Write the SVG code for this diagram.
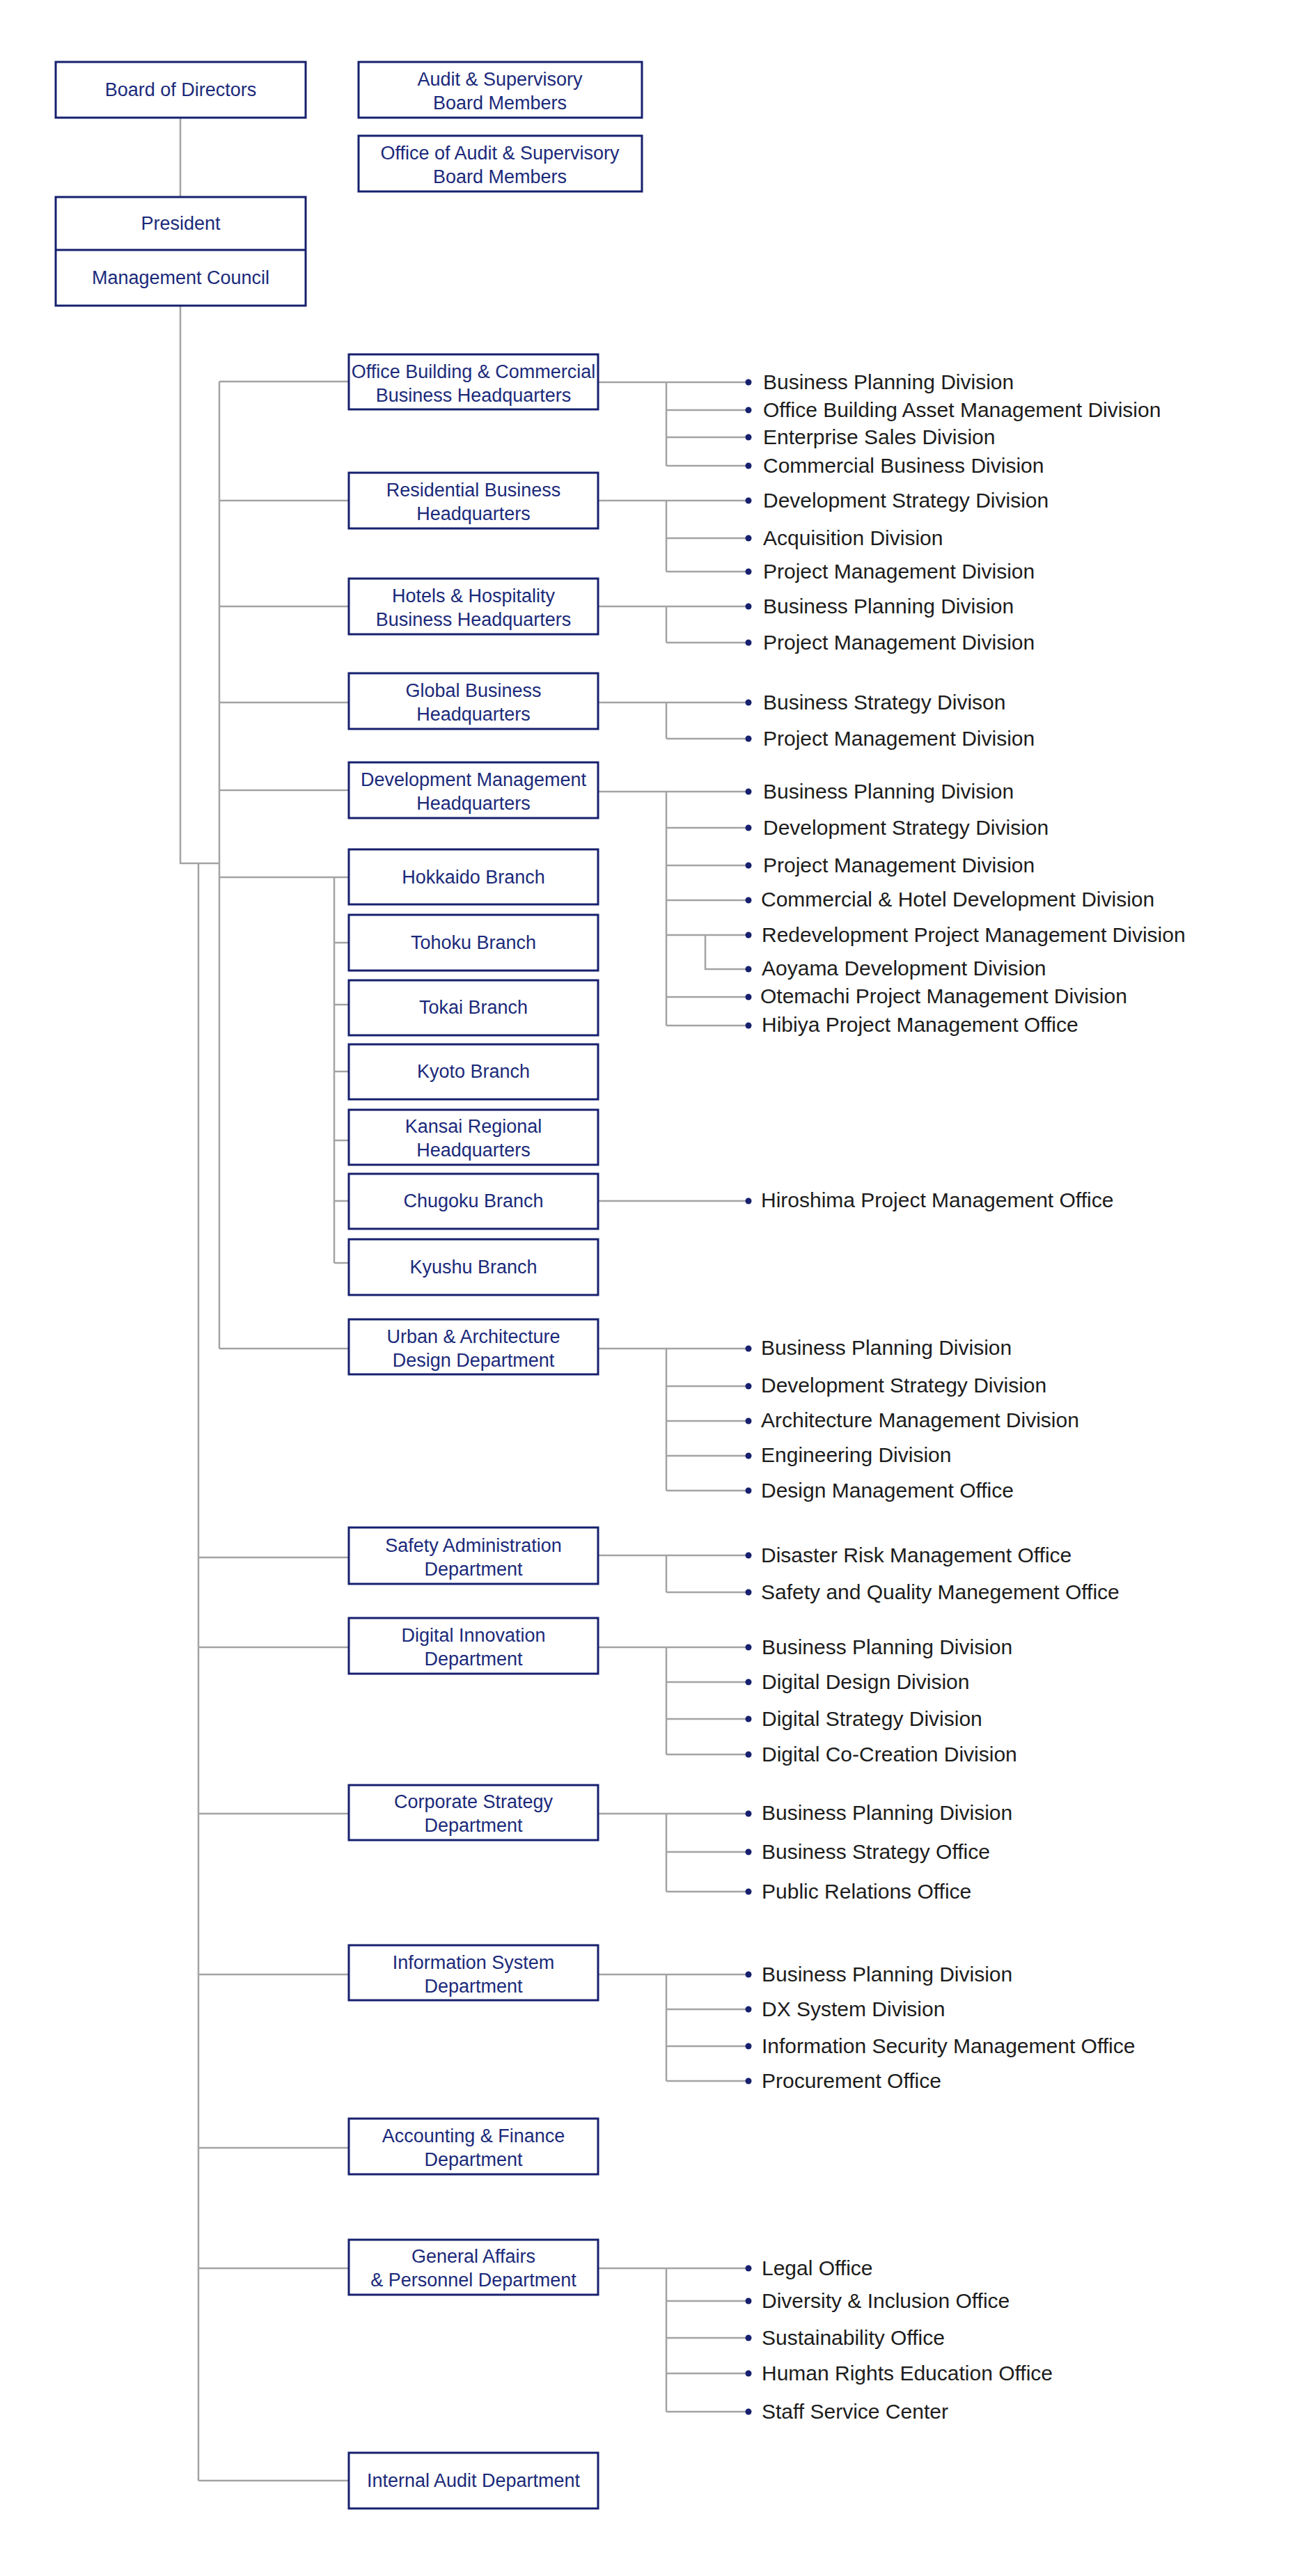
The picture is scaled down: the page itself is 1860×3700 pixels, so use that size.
<svg xmlns="http://www.w3.org/2000/svg" width="1860" height="3700" viewBox="0 0 1860 3700">
<style>
.b{fill:#fff;stroke:#16206e;stroke-width:3}
.t{font-family:"Liberation Sans Narrow","Liberation Sans",sans-serif;fill:#1b2a7a;text-anchor:middle;font-size:27px}
.c{font-family:"Liberation Sans Narrow","Liberation Sans",sans-serif;fill:#1c1c1c;font-size:30px}
.l{fill:none;stroke:#a3a3a3;stroke-width:2.5}
.d{fill:#16206e}
</style>
<rect width="1860" height="3700" fill="#fff"/>
<g id="connectors">
<path class="l" d="M259 169V283M259 439V1240H315M315 548V1937M285 1240V3563"/>
<path class="l" d="M315 548H501M315 719H501M315 871H501M315 1009H501M315 1135H501M315 1260H501M315 1937H501"/>
<path class="l" d="M480 1260V1814M480 1354H501M480 1443H501M480 1539H501M480 1638H501M480 1725H501M480 1814H501"/>
<path class="l" d="M285 2237H501M285 2366H501M285 2605H501M285 2836H501M285 3085H501M285 3258H501M285 3563H501"/>
<path class="l" d="M859 549H1075M957 549V669M957 589H1075M957 628H1075M957 669H1075"/>
<path class="l" d="M859 719H1075M957 719V821M957 773H1075M957 821H1075"/>
<path class="l" d="M859 871H1075M957 871V923M957 923H1075"/>
<path class="l" d="M859 1009H1075M957 1009V1061M957 1061H1075"/>
<path class="l" d="M859 1137H1075M957 1137V1473M957 1189H1075M957 1243H1075M957 1293H1075M957 1343H1075M957 1432H1075M957 1473H1075M1013 1343V1392H1075"/>
<path class="l" d="M859 1725H1075"/>
<path class="l" d="M859 1937H1075M957 1937V2141M957 1991H1075M957 2041H1075M957 2091H1075M957 2141H1075"/>
<path class="l" d="M859 2234H1075M957 2234V2287M957 2287H1075"/>
<path class="l" d="M859 2366H1075M957 2366V2520M957 2416H1075M957 2469H1075M957 2520H1075"/>
<path class="l" d="M859 2605H1075M957 2605V2717M957 2660H1075M957 2717H1075"/>
<path class="l" d="M859 2836H1075M957 2836V2989M957 2886H1075M957 2939H1075M957 2989H1075"/>
<path class="l" d="M859 3258H1075M957 3258V3464M957 3305H1075M957 3358H1075M957 3409H1075M957 3464H1075"/>
</g>
<g id="board"><rect class="b" x="80" y="89" width="359" height="80"/><text class="t" x="259.5" y="138">Board of Directors</text></g>
<g id="audit"><rect class="b" x="515" y="89" width="407" height="80"/><text class="t" x="718" y="123">Audit &amp; Supervisory</text><text class="t" x="718" y="157">Board Members</text></g>
<g id="office-audit"><rect class="b" x="515" y="195" width="407" height="80"/><text class="t" x="718" y="229">Office of Audit &amp; Supervisory</text><text class="t" x="718" y="263">Board Members</text></g>
<g id="president"><rect class="b" x="80" y="283" width="359" height="156"/><line x1="80" y1="359" x2="439" y2="359" stroke="#16206e" stroke-width="3"/><text class="t" x="259.5" y="330">President</text><text class="t" x="259.5" y="408">Management Council</text></g>
<g id="obc"><rect class="b" x="501" y="509" width="358" height="79"/><text class="t" x="680" y="543" font-size="24">Office Building &amp; Commercial</text><text class="t" x="680" y="577" font-size="24">Business Headquarters</text></g>
<g id="res"><rect class="b" x="501" y="679" width="358" height="80"/><text class="t" x="680" y="713">Residential Business</text><text class="t" x="680" y="747">Headquarters</text></g>
<g id="hotels"><rect class="b" x="501" y="831" width="358" height="80"/><text class="t" x="680" y="865">Hotels &amp; Hospitality</text><text class="t" x="680" y="899">Business Headquarters</text></g>
<g id="global"><rect class="b" x="501" y="967" width="358" height="80"/><text class="t" x="680" y="1001">Global Business</text><text class="t" x="680" y="1035">Headquarters</text></g>
<g id="devmgmt"><rect class="b" x="501" y="1095" width="358" height="80"/><text class="t" x="680" y="1129">Development Management</text><text class="t" x="680" y="1163">Headquarters</text></g>
<g id="hokkaido"><rect class="b" x="501" y="1220" width="358" height="79"/><text class="t" x="680" y="1269">Hokkaido Branch</text></g>
<g id="tohoku"><rect class="b" x="501" y="1314" width="358" height="80"/><text class="t" x="680" y="1363">Tohoku Branch</text></g>
<g id="tokai"><rect class="b" x="501" y="1408" width="358" height="79"/><text class="t" x="680" y="1456">Tokai Branch</text></g>
<g id="kyoto"><rect class="b" x="501" y="1500" width="358" height="79"/><text class="t" x="680" y="1548">Kyoto Branch</text></g>
<g id="kansai"><rect class="b" x="501" y="1594" width="358" height="79"/><text class="t" x="680" y="1627">Kansai Regional</text><text class="t" x="680" y="1661">Headquarters</text></g>
<g id="chugoku"><rect class="b" x="501" y="1686" width="358" height="79"/><text class="t" x="680" y="1734">Chugoku Branch</text></g>
<g id="kyushu"><rect class="b" x="501" y="1780" width="358" height="80"/><text class="t" x="680" y="1829">Kyushu Branch</text></g>
<g id="urban"><rect class="b" x="501" y="1895" width="358" height="79"/><text class="t" x="680" y="1929">Urban &amp; Architecture</text><text class="t" x="680" y="1963">Design Department</text></g>
<g id="safety"><rect class="b" x="501" y="2194" width="358" height="81"/><text class="t" x="680" y="2229">Safety Administration</text><text class="t" x="680" y="2263">Department</text></g>
<g id="digital"><rect class="b" x="501" y="2324" width="358" height="80"/><text class="t" x="680" y="2358">Digital Innovation</text><text class="t" x="680" y="2392">Department</text></g>
<g id="corporate"><rect class="b" x="501" y="2564" width="358" height="79"/><text class="t" x="680" y="2597">Corporate Strategy</text><text class="t" x="680" y="2631">Department</text></g>
<g id="infosys"><rect class="b" x="501" y="2794" width="358" height="79"/><text class="t" x="680" y="2828">Information System</text><text class="t" x="680" y="2862">Department</text></g>
<g id="accounting"><rect class="b" x="501" y="3043" width="358" height="80"/><text class="t" x="680" y="3077">Accounting &amp; Finance</text><text class="t" x="680" y="3111">Department</text></g>
<g id="general"><rect class="b" x="501" y="3217" width="358" height="79"/><text class="t" x="680" y="3250" font-size="25">General Affairs</text><text class="t" x="680" y="3284" font-size="25">&amp; Personnel Department</text></g>
<g id="internal"><rect class="b" x="501" y="3523" width="358" height="80"/><text class="t" x="680" y="3572" font-size="25">Internal Audit Department</text></g>
<g id="children">
<g class="d"><circle cx="1075" cy="549" r="4.5"/><circle cx="1075" cy="589" r="4.5"/><circle cx="1075" cy="628" r="4.5"/><circle cx="1075" cy="669" r="4.5"/><circle cx="1075" cy="719" r="4.5"/><circle cx="1075" cy="773" r="4.5"/><circle cx="1075" cy="821" r="4.5"/><circle cx="1075" cy="871" r="4.5"/><circle cx="1075" cy="923" r="4.5"/><circle cx="1075" cy="1009" r="4.5"/><circle cx="1075" cy="1061" r="4.5"/><circle cx="1075" cy="1137" r="4.5"/><circle cx="1075" cy="1189" r="4.5"/><circle cx="1075" cy="1243" r="4.5"/><circle cx="1075" cy="1293" r="4.5"/><circle cx="1075" cy="1343" r="4.5"/><circle cx="1075" cy="1392" r="4.5"/><circle cx="1075" cy="1432" r="4.5"/><circle cx="1075" cy="1473" r="4.5"/><circle cx="1075" cy="1725" r="4.5"/><circle cx="1075" cy="1937" r="4.5"/><circle cx="1075" cy="1991" r="4.5"/><circle cx="1075" cy="2041" r="4.5"/><circle cx="1075" cy="2091" r="4.5"/><circle cx="1075" cy="2141" r="4.5"/><circle cx="1075" cy="2234" r="4.5"/><circle cx="1075" cy="2287" r="4.5"/><circle cx="1075" cy="2366" r="4.5"/><circle cx="1075" cy="2416" r="4.5"/><circle cx="1075" cy="2469" r="4.5"/><circle cx="1075" cy="2520" r="4.5"/><circle cx="1075" cy="2605" r="4.5"/><circle cx="1075" cy="2660" r="4.5"/><circle cx="1075" cy="2717" r="4.5"/><circle cx="1075" cy="2836" r="4.5"/><circle cx="1075" cy="2886" r="4.5"/><circle cx="1075" cy="2939" r="4.5"/><circle cx="1075" cy="2989" r="4.5"/><circle cx="1075" cy="3258" r="4.5"/><circle cx="1075" cy="3305" r="4.5"/><circle cx="1075" cy="3358" r="4.5"/><circle cx="1075" cy="3409" r="4.5"/><circle cx="1075" cy="3464" r="4.5"/></g>
<text class="c" x="1096" y="559">Business Planning Division</text>
<text class="c" x="1096" y="599" font-size="28">Office Building Asset Management Division</text>
<text class="c" x="1096" y="638">Enterprise Sales Division</text>
<text class="c" x="1096" y="679">Commercial Business Division</text>
<text class="c" x="1096" y="729">Development Strategy Division</text>
<text class="c" x="1096" y="783">Acquisition Division</text>
<text class="c" x="1096" y="831">Project Management Division</text>
<text class="c" x="1096" y="881">Business Planning Division</text>
<text class="c" x="1096" y="933">Project Management Division</text>
<text class="c" x="1096" y="1019">Business Strategy Divison</text>
<text class="c" x="1096" y="1071">Project Management Division</text>
<text class="c" x="1096" y="1147">Business Planning Division</text>
<text class="c" x="1096" y="1199">Development Strategy Division</text>
<text class="c" x="1096" y="1253" font-size="28">Project Management Division</text>
<text class="c" x="1093" y="1302" font-size="25">Commercial &amp; Hotel Development Division</text>
<text class="c" x="1094" y="1353" font-size="29">Redevelopment Project Management  Division</text>
<text class="c" x="1094" y="1401" font-size="27">Aoyama Development Division</text>
<text class="c" x="1092" y="1441" font-size="25">Otemachi Project Management Division</text>
<text class="c" x="1094" y="1482" font-size="27">Hibiya Project Management Office</text>
<text class="c" x="1093" y="1734" font-size="27">Hiroshima Project Management Office</text>
<text class="c" x="1093" y="1946" font-size="27">Business Planning Division</text>
<text class="c" x="1093" y="2000" font-size="27">Development Strategy Division</text>
<text class="c" x="1093" y="2050" font-size="27">Architecture Management Division</text>
<text class="c" x="1093" y="2100" font-size="27">Engineering Division</text>
<text class="c" x="1093" y="2151" font-size="29">Design Management Office</text>
<text class="c" x="1093" y="2244" font-size="29">Disaster Risk Management Office</text>
<text class="c" x="1093" y="2297" font-size="29">Safety and Quality Manegement Office</text>
<text class="c" x="1094" y="2376" font-size="29">Business Planning Division</text>
<text class="c" x="1094" y="2426" font-size="29">Digital Design Division</text>
<text class="c" x="1094" y="2479" font-size="29">Digital Strategy Division</text>
<text class="c" x="1094" y="2530" font-size="29">Digital Co-Creation Division</text>
<text class="c" x="1094" y="2614" font-size="28">Business Planning Division</text>
<text class="c" x="1094" y="2670" font-size="28">Business Strategy Office</text>
<text class="c" x="1094" y="2727" font-size="28">Public Relations Office</text>
<text class="c" x="1094" y="2846" font-size="28">Business Planning Division</text>
<text class="c" x="1094" y="2896" font-size="28">DX System Division</text>
<text class="c" x="1094" y="2949" font-size="28">Information Security Management Office</text>
<text class="c" x="1094" y="2999" font-size="28">Procurement Office</text>
<text class="c" x="1094" y="3268" font-size="28">Legal Office</text>
<text class="c" x="1094" y="3315" font-size="28">Diversity &amp; Inclusion Office</text>
<text class="c" x="1094" y="3368" font-size="28">Sustainability Office</text>
<text class="c" x="1094" y="3419" font-size="28">Human Rights Education Office</text>
<text class="c" x="1094" y="3474" font-size="28">Staff Service Center</text>
</g>
</svg>
